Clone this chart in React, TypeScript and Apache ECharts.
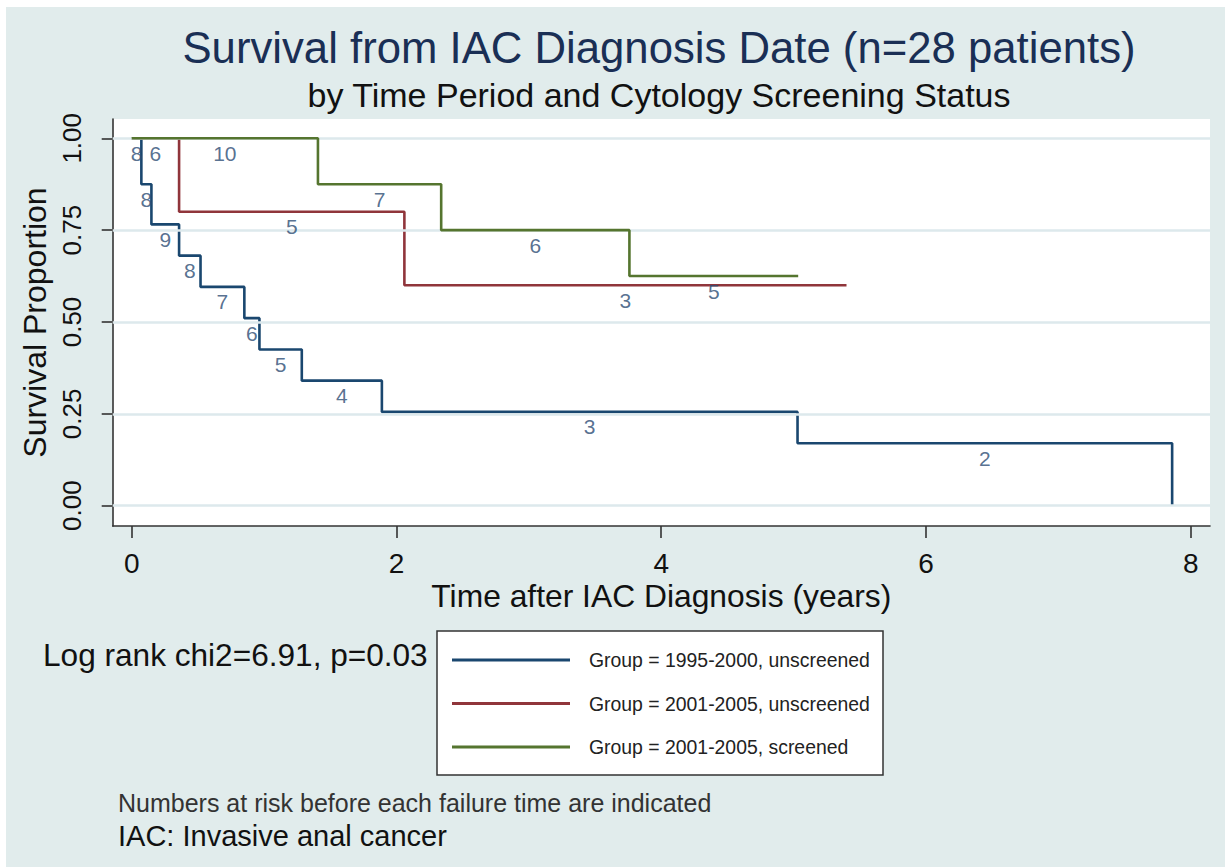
import React, { useEffect, useRef } from "react";
import * as echarts from "echarts";

// ---- data ----
const groupNames = [
  "Group = 1995-2000, unscreened",
  "Group = 2001-2005, unscreened",
  "Group = 2001-2005, screened",
];
const groupColors = ["#1a476f", "#90353b", "#55752f"];

// Group 1: 1995-2000, unscreened
const times1 = [0, 0.073, 0.149, 0.358, 0.52, 0.851, 0.965, 1.285, 1.89, 5.03, 7.86];
const surv1 = [1, 0.875, 0.7656, 0.6805, 0.5955, 0.5104, 0.4253, 0.3403, 0.2552, 0.1701, 0];
const risk1 = [8, 8, 9, 8, 7, 6, 5, 4, 3, 2];

// Group 2: 2001-2005, unscreened
const times2 = [0, 0.358, 2.06, 5.4];
const surv2 = [1, 0.8, 0.6, 0.6];
const risk2 = [6, 5, 3];

// Group 3: 2001-2005, screened
const times3 = [0, 1.407, 2.338, 3.76, 5.035];
const surv3 = [1, 0.875, 0.75, 0.625, 0.625];
const risk3 = [10, 7, 6, 5];

const xTicks = [0, 2, 4, 6, 8];
const yTicks = [0, 0.25, 0.5, 0.75, 1];

const FONT = '"Liberation Sans", Arial, Helvetica, sans-serif';

function stepData(t: number[], s: number[]) {
  return t.map((v, i) => [v, s[i]]);
}
function riskData(t: number[], s: number[], n: number[]) {
  return n.map((c, i) => [(t[i] + t[i + 1]) / 2, s[i], c]);
}

function textEl(text: string, x: number, y: number, size: number, color: string, align: string) {
  return {
    type: "text",
    z: 5,
    x,
    y,
    style: {
      text,
      fill: color,
      font: `${size}px ${FONT}`,
      align,
      verticalAlign: "middle",
      textAlign: align,
      textVerticalAlign: "middle",
    },
  };
}

export default function App() {
  const ref = useRef<HTMLDivElement>(null);
  useEffect(() => {
    if (!ref.current) return;
    const chart = echarts.init(ref.current, null, { renderer: "svg" });
    const lines = [
      [times1, surv1],
      [times2, surv2],
      [times3, surv3],
    ];
    const risks = [
      [times1, surv1, risk1],
      [times2, surv2, risk2],
      [times3, surv3, risk3],
    ];
    const option: any = {
      animation: false,
      backgroundColor: "#ffffff",
      textStyle: { fontFamily: FONT },
      graphic: [
        {
          type: "rect",
          z: -10,
          shape: { x: 6, y: 7, width: 1225 - 6, height: 867 - 7 },
          style: { fill: "#e1ecec" },
          silent: true,
        },
        textEl("Survival from IAC Diagnosis Date (n=28 patients)", 659, 47, 43.7, "#1a2f55", "center"),
        textEl("by Time Period and Cytology Screening Status", 659, 95, 34, "#111111", "center"),
        textEl("Log rank chi2=6.91, p=0.03", 43, 655, 31.6, "#111111", "left"),
        {
          type: "rect",
          z: 1,
          shape: { x: 437, y: 631, width: 446, height: 144 },
          style: { fill: "#ffffff", stroke: "#333333", lineWidth: 1.5 },
          silent: true,
        },
        textEl("Numbers at risk before each failure time are indicated", 118, 803, 25, "#333333", "left"),
        textEl("IAC: Invasive anal cancer", 118, 836, 29, "#111111", "left"),
      ],
      legend: {
        z: 10,
        orient: "vertical",
        left: 437,
        top: 631,
        padding: [19, 14, 18, 15],
        itemWidth: 118,
        itemHeight: 3,
        itemGap: 23.5,
        icon: "rect",
        data: groupNames,
        textStyle: {
          fontFamily: FONT,
          fontSize: 19.4,
          lineHeight: 20,
          color: "#222222",
          padding: [0, 0, 0, 14],
        },
      },
      grid: {
        left: 112.7,
        top: 119,
        width: 1210 - 112.7,
        height: 526 - 119,
        show: true,
        backgroundColor: "#ffffff",
        borderWidth: 0,
        containLabel: false,
      },
      xAxis: {
        type: "value",
        min: -0.1435,
        max: 8.146,
        name: "Time after IAC Diagnosis (years)",
        nameLocation: "middle",
        nameGap: 54,
        nameTextStyle: { fontFamily: FONT, fontSize: 31.8, color: "#111111" },
        axisLine: { show: true, onZero: false, lineStyle: { color: "#333333", width: 1.6 } },
        axisTick: {
          show: true,
          inside: false,
          length: 12,
          customValues: xTicks,
          lineStyle: { color: "#333333", width: 1.6 },
        },
        axisLabel: {
          show: true,
          customValues: xTicks,
          margin: 23,
          fontFamily: FONT,
          fontSize: 28,
          color: "#111111",
          formatter: (v: number) => String(v),
        },
        splitLine: { show: false },
      },
      yAxis: {
        type: "value",
        min: -0.0553,
        max: 1.0525,
        name: "Survival Proportion",
        nameLocation: "middle",
        nameGap: 56,
        nameRotate: 90,
        nameTextStyle: { fontFamily: FONT, fontSize: 32, color: "#111111" },
        axisLine: { show: true, onZero: false, lineStyle: { color: "#333333", width: 1.6 } },
        axisTick: {
          show: true,
          inside: false,
          length: 11,
          customValues: yTicks,
          lineStyle: { color: "#333333", width: 1.6 },
        },
        axisLabel: {
          show: true,
          customValues: yTicks,
          rotate: 90,
          margin: 28,
          fontFamily: FONT,
          fontSize: 26,
          color: "#111111",
          formatter: (v: number) => v.toFixed(2),
        },
        splitLine: { show: false },
      },
      series: [
        {
          name: "grid-lines",
          type: "line",
          data: [],
          z: 1,
          silent: true,
          markLine: {
            silent: true,
            symbol: "none",
            label: { show: false },
            lineStyle: { color: "#dde9ec", width: 2.5, type: "solid" },
            data: yTicks.map((v) => ({ yAxis: v })),
          },
        },
        ...lines.map(([t, s], i) => ({
          name: groupNames[i],
          type: "line",
          step: "end",
          z: 3 + i,
          data: stepData(t as number[], s as number[]),
          showSymbol: false,
          symbol: "none",
          color: groupColors[i],
          itemStyle: { color: groupColors[i] },
          lineStyle: { color: groupColors[i], width: 2.6 },
        })),
        ...risks.map(([t, s, n], i) => ({
          name: "risk-" + i,
          type: "scatter",
          z: 8,
          silent: true,
          symbolSize: 0,
          data: riskData(t as number[], s as number[], n as number[]),
          label: {
            show: true,
            position: "inside",
            offset: [0, 15],
            fontFamily: FONT,
            fontSize: 21,
            color: "#2c4c74",
            formatter: (p: any) => String(p.value[2]),
          },
        })),
      ],
    };
    chart.setOption(option);
    return () => chart.dispose();
  }, []);
  return (
    <div
      ref={ref}
      style={{ position: "absolute", left: 0, top: 0, width: 1225, height: 867 }}
    />
  );
}
